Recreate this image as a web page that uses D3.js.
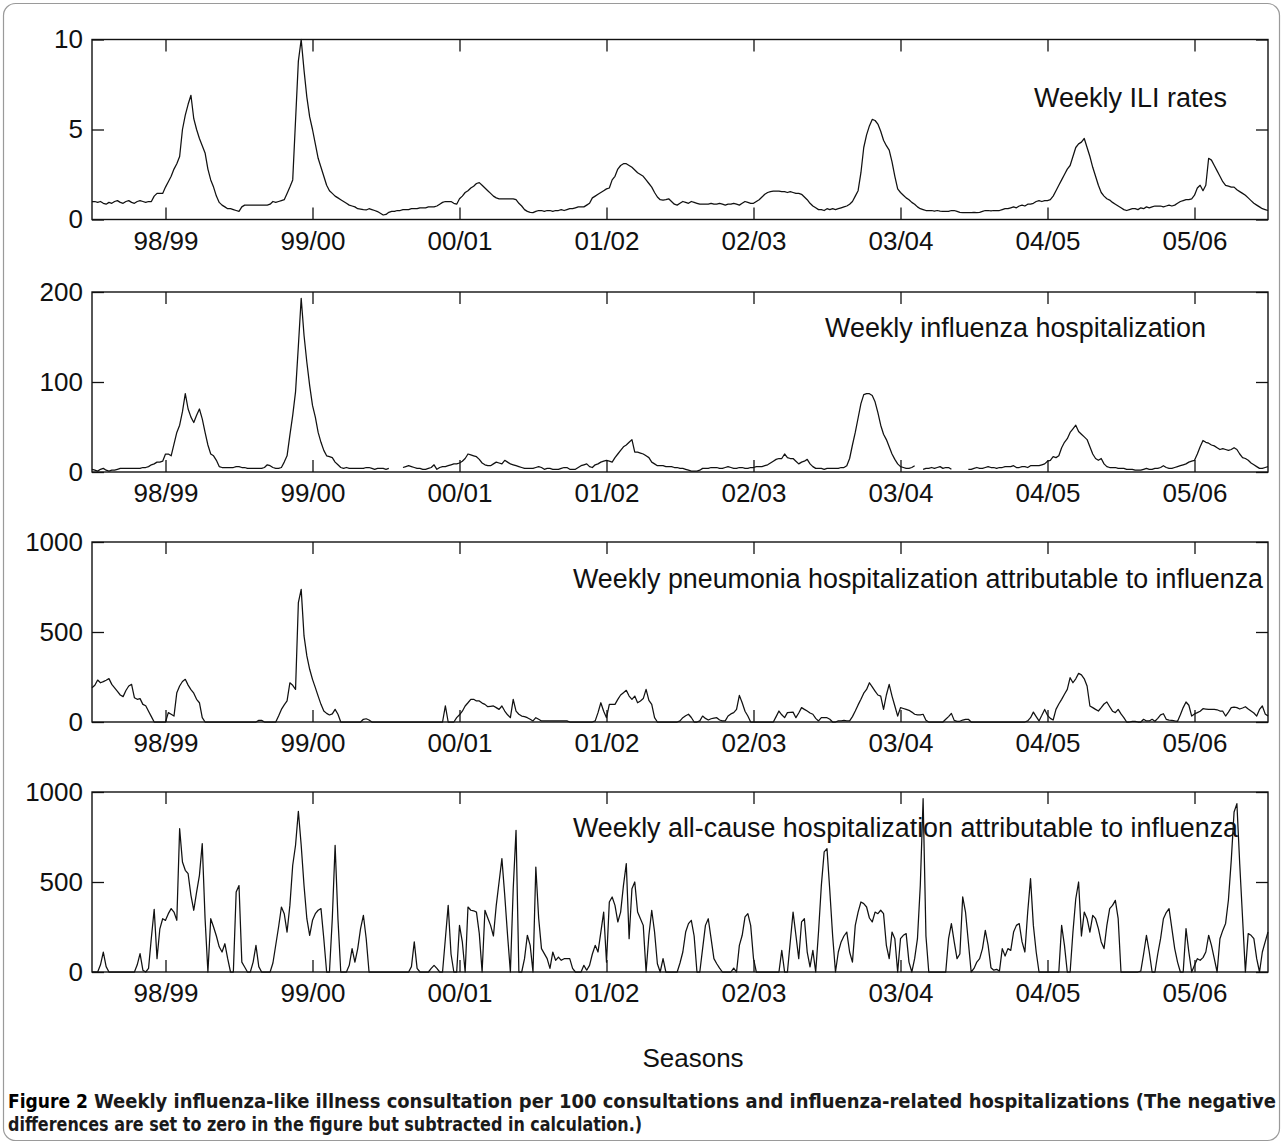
<!DOCTYPE html>
<html><head><meta charset="utf-8">
<script src="https://cdn.jsdelivr.net/npm/d3@7"></script>
<style>
html,body{margin:0;padding:0;background:#fff;}
svg{display:block;}
</style></head>
<body>
<svg id="chart" width="1283" height="1144"></svg>
<script>
// ---------- DATA ----------
const seasonTickWeeks = [26, 78, 130, 182, 234, 286, 338, 390];
const seasonLabels = ["98/99", "99/00", "00/01", "01/02", "02/03", "03/04", "04/05", "05/06"];

const panelTitles = [
  "Weekly ILI rates",
  "Weekly influenza hospitalization",
  "Weekly pneumonia hospitalization attributable to influenza",
  "Weekly all-cause hospitalization attributable to influenza"
];
const yMax = [10, 200, 1000, 1000];
const yTicks = [[0, 5, 10], [0, 100, 200], [0, 500, 1000], [0, 500, 1000]];

// Weekly ILI consultation rate per 100 consultations
const iliRates = [
  1.0,1.0,0.95,1.0,0.9,0.85,0.95,0.9,1.0,1.05,0.95,0.9,1.0,1.05,0.95,0.9,1.0,1.05,1.0,0.95,1.0,1.0,
  1.3,1.45,1.45,1.45,
  1.8,2.1,2.4,2.8,3.1,3.5,5.0,5.8,6.4,6.9,5.6,5.0,4.5,4.1,3.7,2.8,2.2,1.8,1.3,
  0.95,0.8,0.7,0.6,0.6,0.55,0.5,0.45,0.7,
  0.8,0.8,0.8,0.8,0.8,0.8,0.8,0.8,0.8,0.85,1.0,0.95,1.0,1.05,
  1.1,1.45,1.8,2.2,5.5,8.8,10.0,8.3,6.8,5.7,5.0,4.2,3.4,2.9,2.4,1.9,1.6,1.45,
  1.3,1.2,1.1,1.0,0.9,0.8,0.75,0.7,0.6,0.58,0.55,0.53,0.6,0.55,0.5,0.44,0.35,0.25,0.28,0.4,0.45,0.45,
  0.5,0.5,0.55,0.55,0.55,0.6,0.6,0.6,0.65,0.65,0.65,0.7,0.7,0.7,0.75,0.85,0.95,
  1.0,1.0,1.0,0.9,0.85,1.15,1.3,1.5,1.6,1.75,1.85,2.0,2.05,1.9,1.75,1.6,1.45,1.3,1.2,1.15,1.15,1.15,
  1.15,1.15,1.15,1.1,0.9,0.75,0.55,0.45,0.4,0.38,0.45,0.5,0.5,0.45,0.5,0.5,0.45,0.5,0.5,0.55,0.5,0.55,0.6,0.6,0.65,0.7,0.7,0.7,0.8,0.9,
  1.2,1.3,1.4,1.5,1.6,1.7,1.75,2.2,2.4,2.8,3.0,3.1,3.1,3.0,2.9,2.75,2.6,2.5,2.4,2.2,2.0,1.8,1.5,1.25,1.1,1.08,1.1,1.15,1.0,0.85,0.8,
  0.9,1.0,0.95,0.9,1.0,0.95,0.9,0.85,0.85,0.85,0.85,0.9,0.85,0.85,0.9,0.85,0.8,0.85,0.85,0.9,0.85,0.8,0.9,1.0,0.95,0.9,0.9,1.0,1.1,1.25,1.4,1.5,
  1.55,1.58,1.58,1.58,1.55,1.55,1.5,1.55,1.5,1.45,1.45,1.4,1.25,1.1,0.9,0.75,0.65,0.55,0.55,0.5,0.6,0.55,0.6,0.55,0.6,0.65,0.7,0.75,0.85,
  1.0,1.3,1.6,2.6,4.0,4.7,5.2,5.56,5.5,5.3,4.9,4.4,4.1,3.85,3.2,2.4,1.7,1.5,1.35,1.2,1.1,0.95,0.85,
  0.7,0.6,0.55,0.5,0.5,0.5,0.47,0.5,0.47,0.45,0.45,0.45,0.5,0.5,0.45,0.4,0.38,0.38,0.38,0.38,0.4,0.38,0.4,0.45,0.5,0.5,0.48,0.5,0.5,0.5,0.55,0.6,0.6,0.65,0.7,0.65,0.75,0.8,0.75,0.85,0.85,0.9,1.0,1.05,1.0,1.05,1.05,1.1,
  1.3,1.6,1.9,2.2,2.5,2.8,3.0,3.5,4.0,4.2,4.3,4.5,4.0,3.5,2.9,2.4,1.9,1.5,1.3,1.15,1.08,0.95,0.85,0.75,0.65,0.55,0.5,
  0.55,0.6,0.6,0.55,0.65,0.6,0.7,0.65,0.7,0.75,0.75,0.75,0.7,0.75,0.8,0.75,0.8,0.9,1.0,1.05,1.1,1.1,1.15,1.35,1.75,
  1.9,1.6,1.9,3.4,3.3,3.0,2.7,2.4,2.1,1.9,1.85,1.8,1.8,1.65,1.55,1.45,1.35,1.2,1.05,0.9,0.8,0.7,0.6,0.55,0.5
];

// Weekly influenza hospitalizations (null = missing week)
const fluHosp = [
  3,2,1,3,4,2,1,2,2,
  3,4,4,4,4,4,4,4,4,5,5,
  6,8,9,11,11,12,
  20,20,18,31,44,52,67,87,70,61,55,63,70,59,44,30,20,18,13,6,
  5,5,5,5,5,6,6,5,5,4,4,4,4,4,4,5,8,7,5,4,4,5,
  11,18,41,63,89,140,193,152,122,96,74,61,44,33,24,18,17,16,11,8,5,4,5,
  4,4,4,4,4,4,5,5,4,3,4,4,4,3,4,
  null,null,null,null,
  5,6,7,6,5,4,4,3,3,4,5,8,3,5,6,6,7,8,9,9,10,12,15,
  20,19,18,17,14,10,8,7,7,9,11,10,9,13,11,9,8,7,6,5,
  4,4,4,4,5,6,5,3,4,4,3,3,3,4,5,5,3,3,3,5,7,8,9,
  6,5,8,9,11,12,13,12,11,16,20,24,28,30,33,36,22,22,21,20,18,16,11,9,7,7,7,
  6,6,6,5,5,4,4,3,2,1,1,1,2,4,4,4,5,5,5,4,4,5,6,5,4,4,5,5,4,4,5,5,6,6,6,7,8,
  10,12,14,15,15,20,16,15,15,12,9,11,12,14,9,6,4,4,4,3,4,4,4,4,4,5,5,7,15,
  30,44,60,76,86,87,87,85,78,66,52,42,36,28,20,14,9,6,5,4,4,5,7,
  null,null,
  3,4,4,5,4,5,6,4,5,5,3,
  null,null,null,null,null,
  3,3,4,5,4,4,5,6,5,5,4,5,5,6,6,6,7,5,5,6,6,5,7,7,7,7,8,9,12,13,
  17,16,18,27,33,37,44,48,52,45,42,39,36,28,20,15,13,15,9,6,5,5,5,4,4,4,3,
  3,3,2,2,2,3,4,3,3,4,4,5,7,5,4,4,5,6,7,8,9,11,12,13,20,
  28,35,33,32,30,29,27,25,26,25,24,25,27,25,20,16,15,13,10,8,6,4,4,5,6
];

// Weekly pneumonia hospitalizations attributable to influenza (negatives set to 0)
const pneumoniaAttr = [
  190,204,233,218,224,232,241,209,190,170,150,141,175,200,209,135,126,130,98,90,60,30,
  0,0,0,0,0,
  52,43,33,163,200,225,237,205,180,160,126,107,24,0,
  0,0,0,0,0,0,0,0,0,0,0,0,0,0,0,0,0,0,
  9,9,
  0,0,0,0,0,
  33,70,95,117,218,204,181,663,737,478,367,293,237,191,144,98,61,48,39,45,70,43,0,
  0,0,0,0,0,0,0,
  15,18,11,
  0,0,0,0,0,0,0,0,0,0,0,0,0,0,0,0,0,0,0,0,0,0,0,0,0,0,
  89,0,
  0,0,24,40,60,89,
  107,126,126,117,117,105,98,85,87,89,80,70,89,61,40,24,126,60,43,33,30,24,15,6,24,15,6,6,6,6,6,6,6,6,6,6,0,
  0,0,0,0,0,0,0,
  0,6,52,107,60,24,98,98,98,126,150,163,176,144,126,144,107,117,130,181,120,98,24,0,
  0,0,0,0,0,0,
  0,6,24,35,43,25,0,0,6,33,20,11,18,22,24,11,6,6,33,45,52,70,148,107,60,33,0,
  0,0,0,0,0,0,0,0,
  30,61,40,24,52,54,55,24,50,80,70,61,50,43,20,6,24,24,24,15,0,0,6,6,9,6,6,
  30,61,95,126,160,181,218,195,172,150,144,70,150,209,144,89,33,80,75,70,65,55,43,40,40,43,10,
  0,0,0,0,0,0,
  15,30,48,9,4,4,11,15,15,0,
  0,0,0,0,0,0,0,0,0,0,0,0,0,0,0,0,0,0,0,
  6,24,55,30,6,37,70,37,20,11,70,100,126,154,181,246,218,240,270,262,240,200,89,80,70,61,80,100,111,85,60,52,70,45,24,
  0,0,4,4,0,0,15,6,6,15,4,20,40,46,15,10,9,6,4,40,80,111,93,33,45,52,60,74,72,70,70,70,68,61,60,33,55,80,83,80,72,78,85,72,61,50,33,70,89,45,33
];

// Weekly all-cause hospitalizations attributable to influenza (negatives set to 0)
const allCauseAttr = [
  0,0,0,40,110,30,0,0,0,0,0,0,0,0,0,0,40,102,
  10,0,
  20,190,348,74,240,296,287,324,352,333,287,796,
  611,565,546,426,343,444,537,713,296,0,
  296,250,200,140,111,157,74,0,0,444,480,55,28,0,0,
  55,148,30,0,0,0,0,
  50,150,250,361,324,222,370,593,704,893,704,481,296,204,287,324,343,352,185,0,0,296,704,296,0,
  0,0,37,130,55,130,241,315,185,
  0,0,0,0,0,0,0,0,0,0,0,0,0,0,0,
  30,167,20,0,
  0,0,0,20,37,20,0,0,
  185,370,100,0,0,259,167,0,361,343,340,333,213,0,343,
  300,259,200,370,500,630,426,204,0,463,787,0,0,74,204,148,0,583,300,130,102,74,20,111,65,83,65,74,74,74,20,
  0,0,0,37,10,37,
  100,148,111,222,333,55,389,417,370,278,333,481,602,185,463,500,333,296,259,0,204,343,222,46,0,74,0,0,0,0,0,
  50,111,222,269,287,200,0,0,130,259,296,185,74,46,22,0,0,0,0,22,0,148,204,306,324,259,74,0,
  0,0,0,0,0,0,0,
  0,120,0,0,167,333,204,74,278,296,111,28,120,0,222,481,667,685,450,200,0,
  111,167,200,222,111,55,259,333,389,380,361,300,278,333,324,343,324,148,74,222,185,0,
  185,204,213,55,0,74,185,481,963,200,0,
  0,0,0,0,0,0,
  185,269,167,74,100,417,333,167,0,20,55,74,130,231,148,24,10,15,5,
  130,89,130,120,222,259,269,167,111,333,519,259,111,0,0,0,0,0,0,0,0,259,148,0,
  0,222,407,500,200,333,296,222,315,296,241,167,130,259,352,370,398,296,0,
  0,0,0,0,0,0,5,100,204,111,0,0,100,185,296,330,352,241,130,55,0,0,241,111,0,37,74,65,80,111,204,148,74,
  0,185,231,270,400,620,889,935,600,300,0,213,204,185,74,0,111,167,222
];

const seriesList = [iliRates, fluHosp, pneumoniaAttr, allCauseAttr];
const xAxisTitle = "Seasons";
const captionBold = "Figure 2";
const captionLine1 = "Weekly influenza-like illness consultation per 100 consultations and influenza-related hospitalizations (The negative";
const captionLine2 = "differences are set to zero in the figure but subtracted in calculation.)";

// ---------- LAYOUT ----------
const W = 1283, H = 1144;
const plotLeft = 92, plotRight = 1268;
const panelTops = [39.5, 292, 542, 792];
const panelH = 180;
const titlePos = [
  {x: 1034, y: 107, w: 193},
  {x: 825, y: 337, w: 381},
  {x: 573, y: 588, w: 690},
  {x: 573, y: 837, w: 665}
];
const FONT = "'Liberation Sans', Arimo, Arial, Helvetica, sans-serif";

const svg = d3.select("#chart");
svg.append("rect").attr("width", W).attr("height", H).attr("fill", "#fff");
// outer frame
svg.append("rect").attr("x", 3.5).attr("y", 3.5).attr("width", W - 7).attr("height", H - 7)
  .attr("rx", 12).attr("fill", "none").attr("stroke", "#9a9a9a").attr("stroke-width", 1.2);

const nWeeks = 417;
const x = d3.scaleLinear().domain([0, nWeeks - 1]).range([plotLeft, plotRight]);

seriesList.forEach((data, p) => {
  const top = panelTops[p], bottom = top + panelH;
  const y = d3.scaleLinear().domain([0, yMax[p]]).range([bottom, top]);
  const g = svg.append("g");

  const line = d3.line()
    .defined(d => d !== null && d !== undefined)
    .x((d, i) => x(i))
    .y(d => y(d));
  g.append("path").datum(data)
    .attr("d", line)
    .attr("fill", "none")
    .attr("stroke", "#111")
    .attr("stroke-width", 1.25)
    .attr("stroke-linejoin", "round");

  const styleAxis = sel => {
    sel.select(".domain").remove();
    sel.selectAll(".tick line").attr("stroke", "#111").attr("stroke-width", 1.3);
    sel.selectAll(".tick text").attr("fill", "#111")
      .style("font-family", FONT).style("font-size", "26px");
  };
  g.append("g").attr("transform", `translate(${plotLeft},0)`)
    .call(d3.axisLeft(y).tickValues(yTicks[p]).tickSizeInner(-12).tickSizeOuter(0).tickPadding(9).tickFormat(d3.format("d")))
    .call(styleAxis);
  g.append("g").attr("transform", `translate(${plotRight},0)`)
    .call(d3.axisRight(y).tickValues(yTicks[p]).tickSizeInner(-12).tickSizeOuter(0).tickFormat(""))
    .call(styleAxis);
  g.append("g").attr("transform", `translate(0,${bottom})`)
    .call(d3.axisBottom(x).tickValues(seasonTickWeeks).tickSizeInner(-12).tickSizeOuter(0).tickPadding(12)
      .tickFormat((d, i) => seasonLabels[i]))
    .call(styleAxis);
  g.append("g").attr("transform", `translate(0,${top})`)
    .call(d3.axisTop(x).tickValues(seasonTickWeeks).tickSizeInner(-12).tickSizeOuter(0).tickFormat(""))
    .call(styleAxis);

  g.append("rect").attr("x", plotLeft).attr("y", top)
    .attr("width", plotRight - plotLeft).attr("height", panelH)
    .attr("fill", "none").attr("stroke", "#111").attr("stroke-width", 1.4);

  g.append("text").attr("x", titlePos[p].x).attr("y", titlePos[p].y)
    .attr("textLength", titlePos[p].w).attr("lengthAdjust", "spacingAndGlyphs")
    .style("font-family", FONT).style("font-size", "27px").attr("fill", "#111")
    .text(panelTitles[p]);
});

// x-axis title
svg.append("text").attr("x", 693).attr("y", 1067).attr("text-anchor", "middle")
  .style("font-family", FONT).style("font-size", "26px").attr("fill", "#111")
  .text(xAxisTitle);

// caption
const CAPFONT = "'DejaVu Sans Condensed', 'Liberation Sans Narrow', 'Open Sans', sans-serif";
const capStyle = sel => sel.style("font-family", CAPFONT).style("font-size", "20px")
  .style("font-weight", "bold").attr("lengthAdjust", "spacingAndGlyphs");
svg.append("text").attr("x", 8).attr("y", 1108).attr("textLength", 80)
  .call(capStyle).attr("fill", "#000").text(captionBold);
svg.append("text").attr("x", 94).attr("y", 1108).attr("textLength", 1182)
  .call(capStyle).attr("fill", "#1a1a1a").text(captionLine1);
svg.append("text").attr("x", 8).attr("y", 1131).attr("textLength", 634)
  .call(capStyle).attr("fill", "#1a1a1a").text(captionLine2);
</script>
</body></html>
